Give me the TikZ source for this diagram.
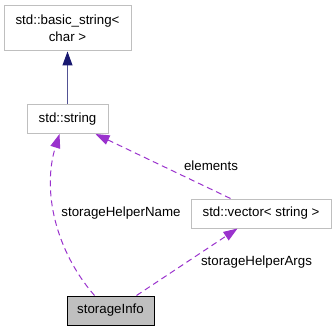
\documentclass[tikz,border=0pt]{standalone}
\usepackage{fontspec}
\setmainfont{Liberation Sans}
\usetikzlibrary{arrows.meta,calc}
\definecolor{boxgrey}{HTML}{BFBFBF}
\definecolor{usecolor}{HTML}{9A32CD}
\definecolor{inhcolor}{HTML}{191970}
\begin{document}
\begin{tikzpicture}[x=1pt,y=-1pt,
  every node/.style={font=\fontsize{13.3}{17}\selectfont},
  classbox/.style={draw=boxgrey,line width=1pt,fill=white,inner sep=0pt,align=center},
  focusbox/.style={draw=black,line width=1pt,fill=boxgrey,inner sep=0pt},
  inherit/.style={draw=inhcolor!75!white,line width=1pt,-{Triangle[length=14pt,width=10pt,color=inhcolor]}},
  uses/.style={draw=usecolor,line width=1pt,dash pattern=on 6pt off 4pt,-{Triangle[length=14pt,width=10pt]},color=usecolor},
  edgelabel/.style={text=black,inner sep=0pt}]
  \useasboundingbox (0,0) rectangle (336,331);
  \node[classbox,minimum width=127pt,minimum height=45pt] (basic) at (67.5,28.5) {std::basic\_string\textless\\char \textgreater};
  \node[classbox,minimum width=81pt,minimum height=29pt] (str) at (67.5,119) {std::string};
  \node[classbox,minimum width=140pt,minimum height=29pt] (vec) at (261,213.5) {std::vector\textless{} string \textgreater};
  \node[focusbox,minimum width=87pt,minimum height=29pt] (info) at (110.5,310.5) {storageInfo};
  % inheritance
  \draw[inherit] (str.north) -- (basic.south);
  % members
  \draw[uses] ($(info.north west)+(28,0)$) .. controls (55,250) and (42,190) .. ($(str.south west)+(33,0)$);
  \draw[uses] ($(vec.north west)+(40,0)$) -- ($(str.south east)+(-13,0)$);
  \draw[uses] ($(info.north west)+(70,0)$) -- ($(vec.south west)+(47,0)$);
  \node[edgelabel] (lname) at (121,213) {storageHelperName};
  \node[edgelabel] (lelem) at (211,166) {elements};
  \node[edgelabel] (largs) at (256.5,262) {storageHelperArgs};
\end{tikzpicture}
\end{document}
